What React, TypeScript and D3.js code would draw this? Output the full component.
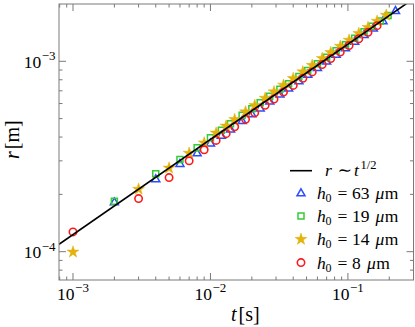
import React from "react";
import * as d3 from "d3";

const W = 415;
const H = 327;
const PL = 59, PR = 413.5, PT = 4, PB = 280;

const xDomain = [7.91e-4, 0.3];
const yDomain = [7.1e-5, 2.0e-3];

const xMajorTicks = [1e-3, 1e-2, 1e-1];
const xMajorExps = ["−3", "−2", "−1"];
const yMajorTicks = [1e-4, 1e-3];
const yMajorExps = ["−4", "−3"];

// fit line r ~ t^{1/2}
const fitT = [7.91e-4, 0.3];
const fitR = [1.094e-4, 2.131e-3];

// h0 = 63 um (triangles)
const tTri = [0.002, 0.004, 0.006, 0.008, 0.010, 0.012, 0.014, 0.017, 0.020, 0.023, 0.027, 0.032, 0.037, 0.044, 0.051, 0.060, 0.070, 0.082, 0.096, 0.112, 0.131, 0.153, 0.180, 0.222];
const rTri = [1.83e-4, 2.42e-4, 2.91e-4, 3.31e-4, 3.73e-4, 4.09e-4, 4.42e-4, 4.89e-4, 5.31e-4, 5.69e-4, 6.20e-4, 6.75e-4, 7.26e-4, 7.92e-4, 8.57e-4, 9.29e-4, 1.004e-3, 1.092e-3, 1.181e-3, 1.276e-3, 1.387e-3, 1.499e-3, 1.634e-3, 1.85e-3];

// h0 = 19 um (squares)
const tSq = [0.002, 0.004, 0.006, 0.008, 0.010, 0.012, 0.014, 0.017, 0.020, 0.023, 0.027, 0.032, 0.037, 0.044, 0.051, 0.060, 0.070, 0.082, 0.096, 0.112, 0.131, 0.150, 0.172, 0.196];
const rSq = [1.84e-4, 2.57e-4, 3.05e-4, 3.51e-4, 3.97e-4, 4.35e-4, 4.70e-4, 5.20e-4, 5.64e-4, 6.05e-4, 6.55e-4, 7.13e-4, 7.63e-4, 8.32e-4, 8.96e-4, 9.72e-4, 1.050e-3, 1.136e-3, 1.223e-3, 1.321e-3, 1.429e-3, 1.529e-3, 1.629e-3, 1.739e-3];

// h0 = 14 um (stars)
const tStar = [0.001, 0.003, 0.005, 0.007, 0.009, 0.011, 0.013, 0.015, 0.018, 0.021, 0.025, 0.029, 0.034, 0.040, 0.047, 0.055, 0.065, 0.075, 0.088, 0.102, 0.120, 0.140, 0.163, 0.190];
const rStar = [9.96e-5, 2.13e-4, 2.75e-4, 3.29e-4, 3.73e-4, 4.20e-4, 4.57e-4, 4.95e-4, 5.43e-4, 5.86e-4, 6.40e-4, 6.92e-4, 7.50e-4, 8.13e-4, 8.81e-4, 9.53e-4, 1.036e-3, 1.113e-3, 1.200e-3, 1.292e-3, 1.401e-3, 1.506e-3, 1.625e-3, 1.746e-3];

// h0 = 8 um (circles)
const tCirc = [0.001, 0.003, 0.005, 0.007, 0.009, 0.011, 0.013, 0.015, 0.018, 0.021, 0.025, 0.029, 0.034, 0.040, 0.047, 0.055, 0.065, 0.075, 0.088, 0.102, 0.120, 0.140, 0.163];
const rCirc = [1.27e-4, 1.90e-4, 2.45e-4, 3.00e-4, 3.43e-4, 3.84e-4, 4.17e-4, 4.53e-4, 4.96e-4, 5.36e-4, 5.87e-4, 6.33e-4, 6.89e-4, 7.47e-4, 8.14e-4, 8.80e-4, 9.62e-4, 1.033e-3, 1.119e-3, 1.211e-3, 1.314e-3, 1.419e-3, 1.539e-3];

const legendValues = ["63", "19", "14", "8"];

const BLUE = "#2b4cff";
const GREEN = "#33cc33";
const GOLD = "#e3b20b";
const RED = "#ff1a1a";
const AXIS = "#7a7a7a";
const FONT = "'Liberation Serif', 'DejaVu Serif', serif";

const triPath = d3.symbol(d3.symbolTriangle, 28)()!;
const sqPath = d3.symbol(d3.symbolSquare, 36)()!;
const starPath = d3.symbol(d3.symbolStar, 44)()!;

function Marker({ kind, x, y }: { kind: string; x: number; y: number }) {
  if (kind === "tri")
    return <path d={triPath} transform={`translate(${x},${y + 0.8})`} fill="none" stroke={BLUE} strokeWidth={1.5} />;
  if (kind === "sq")
    return <path d={sqPath} transform={`translate(${x},${y})`} fill="none" stroke={GREEN} strokeWidth={1.5} />;
  if (kind === "star")
    return <path d={starPath} transform={`translate(${x},${y})`} fill={GOLD} stroke={GOLD} strokeWidth={0.5} />;
  return <circle cx={x} cy={y} r={3.7} fill="none" stroke={RED} strokeWidth={1.6} />;
}

export default function App() {
  const x = d3.scaleLog().domain(xDomain).range([PL, PR]);
  const y = d3.scaleLog().domain(yDomain).range([PB, PT]);

  const xMinor = x.ticks().filter((t) => !xMajorTicks.some((m) => Math.abs(m - t) / m < 1e-6));
  const yMinor = y.ticks().filter((t) => !yMajorTicks.some((m) => Math.abs(m - t) / m < 1e-6));

  const line = d3
    .line<number>()
    .x((_, i) => x(fitT[i]))
    .y((_, i) => y(fitR[i]));

  const series = [
    { kind: "tri", t: tTri, r: rTri },
    { kind: "sq", t: tSq, r: rSq },
    { kind: "star", t: tStar, r: rStar },
    { kind: "circ", t: tCirc, r: rCirc },
  ];

  const MAJ = 7, MIN = 3.5;

  return (
    <svg width={W} height={H} style={{ position: "absolute", left: 0, top: 0 }} fontFamily={FONT}>
      <defs>
        <clipPath id="plotclip">
          <rect x={PL} y={PT} width={PR - PL} height={PB - PT} />
        </clipPath>
      </defs>
      <rect width={W} height={H} fill="white" />

      <g clipPath="url(#plotclip)">
        {series.map((s) =>
          s.t.map((tv, i) => <Marker key={s.kind + i} kind={s.kind} x={x(tv)} y={y(s.r[i])} />)
        )}
        <path d={line(fitT)!} fill="none" stroke="black" strokeWidth={1.6} />
      </g>

      <rect x={PL} y={PT} width={PR - PL} height={PB - PT} fill="none" stroke={AXIS} strokeWidth={1} />

      {xMajorTicks.map((t) => (
        <g key={"xM" + t}>
          <line x1={x(t)} x2={x(t)} y1={PB} y2={PB - MAJ} stroke={AXIS} />
          <line x1={x(t)} x2={x(t)} y1={PT} y2={PT + MAJ} stroke={AXIS} />
        </g>
      ))}
      {xMinor.filter((t) => x(t) > PL + 0.5 && x(t) < PR - 0.5).map((t) => (
        <g key={"xm" + t}>
          <line x1={x(t)} x2={x(t)} y1={PB} y2={PB - MIN} stroke={AXIS} />
          <line x1={x(t)} x2={x(t)} y1={PT} y2={PT + MIN} stroke={AXIS} />
        </g>
      ))}
      {yMajorTicks.map((t) => (
        <g key={"yM" + t}>
          <line x1={PL} x2={PL + MAJ} y1={y(t)} y2={y(t)} stroke={AXIS} />
          <line x1={PR} x2={PR - MAJ} y1={y(t)} y2={y(t)} stroke={AXIS} />
        </g>
      ))}
      {yMinor.filter((t) => y(t) > PT + 0.5 && y(t) < PB - 0.5).map((t) => (
        <g key={"ym" + t}>
          <line x1={PL} x2={PL + MIN} y1={y(t)} y2={y(t)} stroke={AXIS} />
          <line x1={PR} x2={PR - MIN} y1={y(t)} y2={y(t)} stroke={AXIS} />
        </g>
      ))}

      {xMajorTicks.map((t, i) => (
        <text key={"xl" + t} x={x(t)} y={299.5} textAnchor="middle" fontSize={17.5} fill="black">
          10<tspan fontSize={13} dx={0.5} dy={-7.5}>{xMajorExps[i]}</tspan>
        </text>
      ))}
      {yMajorTicks.map((t, i) => (
        <text key={"yl" + t} x={55.5} y={y(t) + 6.5} textAnchor="end" fontSize={17.5} fill="black">
          10<tspan fontSize={13} dx={0.5} dy={-7.5}>{yMajorExps[i]}</tspan>
        </text>
      ))}

      <text x={231} y={321} fontSize={20} fill="black">
        <tspan fontStyle="italic">t</tspan>
        <tspan dx={2}>[s]</tspan>
      </text>
      <text transform="translate(19,159) rotate(-90)" fontSize={20} fill="black">
        <tspan fontStyle="italic">r</tspan>
        <tspan dx={2}>[m]</tspan>
      </text>

      <g fontSize={17.5} fill="black">
        <line x1={290} x2={312} y1={170.7} y2={170.7} stroke="black" strokeWidth={1.6} />
        <text y={176}>
          <tspan x={325} fontStyle="italic">r</tspan>
          <tspan x={337.5}>∼</tspan>
          <tspan x={354} fontStyle="italic">t</tspan>
          <tspan x={360.5} fontSize={12.5} dy={-7}>1/2</tspan>
        </text>
        {series.map((s, i) => {
          const ly = 192.7 + i * 23.3;
          const two = legendValues[i].length > 1;
          return (
            <g key={"lg" + i}>
              <Marker kind={s.kind} x={301} y={ly} />
              <text y={ly + 6}>
                <tspan x={317} fontStyle="italic">h</tspan>
                <tspan x={325.5} fontSize={12} dy={3}>0</tspan>
                <tspan x={337.5} dy={-3}>=</tspan>
                <tspan x={352}>{legendValues[i]}</tspan>
                <tspan x={two ? 375.5 : 367} fontStyle="italic">μ</tspan>
                <tspan dx={0.5}>m</tspan>
              </text>
            </g>
          );
        })}
      </g>
    </svg>
  );
}
